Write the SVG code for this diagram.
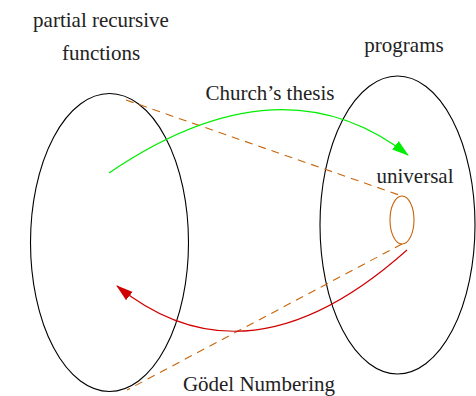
<svg xmlns="http://www.w3.org/2000/svg" width="476" height="396" viewBox="0 0 476 396">
<style>
.set{fill:none;stroke:#000;stroke-width:1.1}
.dash{fill:none;stroke:#c8640a;stroke-width:1.1;stroke-dasharray:8 6}
</style>
<defs>
<marker id="ag" viewBox="0 0 16 10" refX="15" refY="5" markerWidth="17" markerHeight="11" markerUnits="userSpaceOnUse" orient="auto"><path d="M0,0 L16,5 L0,10 Z" fill="#00ee00"/></marker>
<marker id="ar" viewBox="0 0 16 10" refX="15" refY="5" markerWidth="17" markerHeight="11" markerUnits="userSpaceOnUse" orient="auto"><path d="M0,0 L16,5 L0,10 Z" fill="#d00000"/></marker>
</defs>
<g id="prf">
<ellipse class="set" cx="109.5" cy="242.5" rx="79" ry="149"/>
<text x="101" y="27" font-family="Liberation Serif" font-size="21px" fill="#222" text-anchor="middle">partial recursive</text>
<text x="101" y="60" font-family="Liberation Serif" font-size="21px" fill="#222" text-anchor="middle">functions</text>
</g>
<g id="programs">
<ellipse class="set" cx="397.5" cy="225" rx="77.5" ry="149"/>
<text x="404" y="52" font-family="Liberation Serif" font-size="21px" fill="#222" text-anchor="middle">programs</text>
</g>
<g id="universal">
<ellipse cx="402" cy="220" rx="12" ry="24" fill="none" stroke="#c8640a" stroke-width="1.1"/>
<text x="415" y="183" font-family="Liberation Serif" font-size="21px" fill="#222" text-anchor="middle">universal</text>
</g>
<g id="connectors">
<path class="dash" d="M126,100 L402,196"/>
<path class="dash" d="M402,244 L127,390"/>
<path d="M109,173 Q281,56 408,155" fill="none" stroke="#00ee00" stroke-width="1.1" marker-end="url(#ag)"/>
<path d="M407,250 Q248,392 117,286" fill="none" stroke="#d00000" stroke-width="1.1" marker-end="url(#ar)"/>
<text x="270" y="100" font-family="Liberation Serif" font-size="21px" fill="#222" text-anchor="middle">Church’s thesis</text>
<text x="259" y="391" font-family="Liberation Serif" font-size="21px" fill="#222" text-anchor="middle">Gödel Numbering</text>
</g>
</svg>
